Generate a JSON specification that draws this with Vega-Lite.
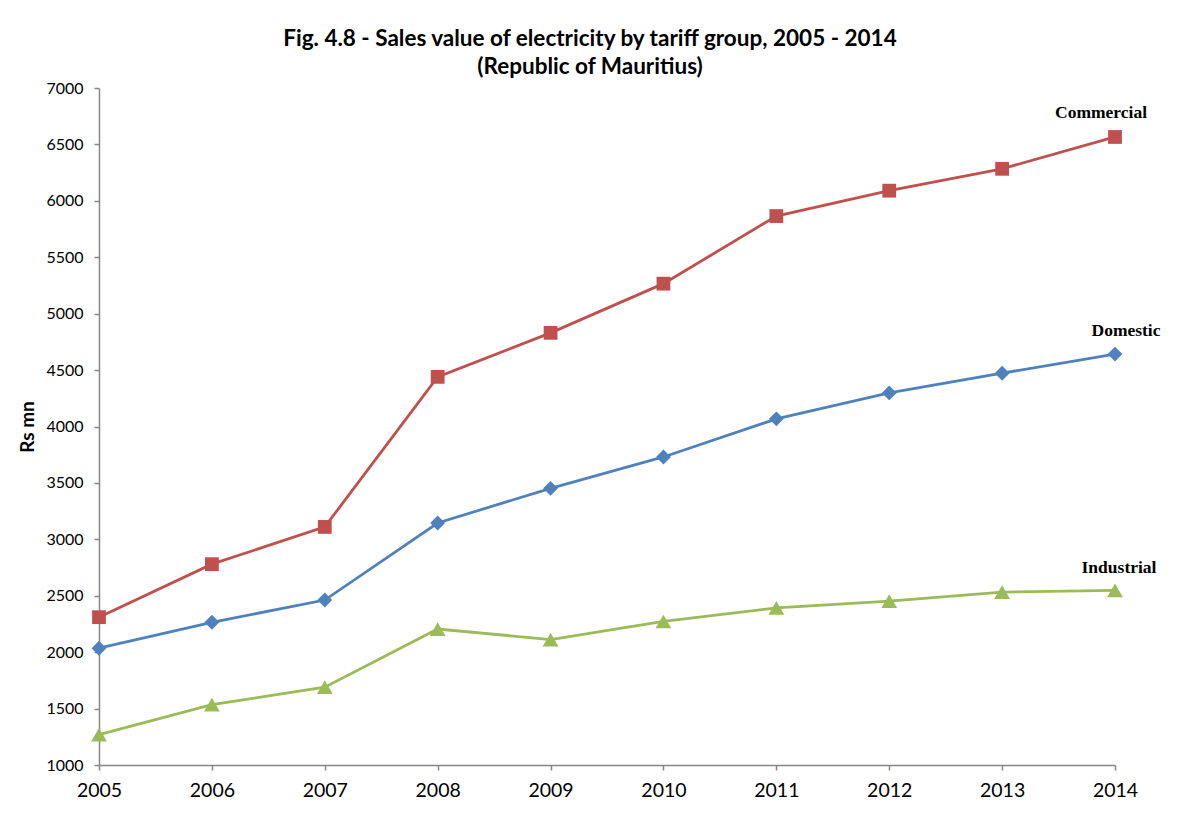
{
  "$schema": "https://vega.github.io/schema/vega-lite/v6.json",
  "width": 1016,
  "height": 677,
  "autosize": {"type": "none"},
  "padding": {"left": 99, "top": 88, "right": 66, "bottom": 52},
  "background": "white",
  "config": {
    "view": {"stroke": null},
    "font": "Lato"
  },
  "title": {
    "text": ["Fig. 4.8 - Sales value of electricity by tariff group, 2005 - 2014", "(Republic of Mauritius)"],
    "font": "Lato",
    "fontSize": 22.5,
    "fontWeight": "bold",
    "color": "black",
    "lineHeight": 28,
    "anchor": "middle",
    "dx": -17,
    "offset": 2
  },
  "data": {
    "values": [
      {"year": 2005, "group": "Commercial", "value": 2310},
      {"year": 2006, "group": "Commercial", "value": 2780},
      {"year": 2007, "group": "Commercial", "value": 3110},
      {"year": 2008, "group": "Commercial", "value": 4440},
      {"year": 2009, "group": "Commercial", "value": 4830},
      {"year": 2010, "group": "Commercial", "value": 5266},
      {"year": 2011, "group": "Commercial", "value": 5865},
      {"year": 2012, "group": "Commercial", "value": 6090},
      {"year": 2013, "group": "Commercial", "value": 6284},
      {"year": 2014, "group": "Commercial", "value": 6566},
      {"year": 2005, "group": "Domestic", "value": 2035},
      {"year": 2006, "group": "Domestic", "value": 2265},
      {"year": 2007, "group": "Domestic", "value": 2462},
      {"year": 2008, "group": "Domestic", "value": 3145},
      {"year": 2009, "group": "Domestic", "value": 3452},
      {"year": 2010, "group": "Domestic", "value": 3730},
      {"year": 2011, "group": "Domestic", "value": 4068},
      {"year": 2012, "group": "Domestic", "value": 4298},
      {"year": 2013, "group": "Domestic", "value": 4472},
      {"year": 2014, "group": "Domestic", "value": 4642},
      {"year": 2005, "group": "Industrial", "value": 1270},
      {"year": 2006, "group": "Industrial", "value": 1535},
      {"year": 2007, "group": "Industrial", "value": 1690},
      {"year": 2008, "group": "Industrial", "value": 2205},
      {"year": 2009, "group": "Industrial", "value": 2112},
      {"year": 2010, "group": "Industrial", "value": 2272},
      {"year": 2011, "group": "Industrial", "value": 2392},
      {"year": 2012, "group": "Industrial", "value": 2452},
      {"year": 2013, "group": "Industrial", "value": 2532},
      {"year": 2014, "group": "Industrial", "value": 2547}
    ]
  },
  "encoding": {
    "x": {
      "field": "year",
      "type": "quantitative",
      "scale": {"domain": [2005, 2014], "nice": false, "zero": false},
      "axis": {
        "values": [2005, 2006, 2007, 2008, 2009, 2010, 2011, 2012, 2013, 2014],
        "format": "d",
        "title": null,
        "grid": false,
        "domainColor": "#868686",
        "domainWidth": 1.5,
        "tickColor": "#868686",
        "tickSize": 5,
        "tickWidth": 1.5,
        "labelFont": "Lato",
        "labelFontSize": 19.5,
        "labelColor": "black",
        "labelPadding": 11,
        "labelFlush": false
      }
    },
    "y": {
      "field": "value",
      "type": "quantitative",
      "scale": {"domain": [1000, 7000], "nice": false, "zero": false},
      "axis": {
        "values": [1000, 1500, 2000, 2500, 3000, 3500, 4000, 4500, 5000, 5500, 6000, 6500, 7000],
        "format": "d",
        "title": "Rs mn",
        "titleFont": "Lato",
        "titleFontSize": 19,
        "titleFontWeight": "bold",
        "titleColor": "black",
        "titlePadding": 8,
        "grid": false,
        "domainColor": "#868686",
        "domainWidth": 1.5,
        "tickColor": "#868686",
        "tickSize": 5,
        "tickWidth": 1.5,
        "labelFont": "Lato",
        "labelFontSize": 16,
        "labelColor": "black",
        "labelPadding": 11,
        "labelFlush": false
      }
    },
    "color": {
      "field": "group",
      "type": "nominal",
      "scale": {"domain": ["Commercial", "Domestic", "Industrial"], "range": ["#C0504D", "#4F81BD", "#9BBB59"]},
      "legend": null
    }
  },
  "layer": [
    {
      "mark": {"type": "line", "strokeWidth": 2.8}
    },
    {
      "mark": {"type": "point", "filled": true, "opacity": 1},
      "encoding": {
        "shape": {
          "field": "group",
          "type": "nominal",
          "scale": {"domain": ["Commercial", "Domestic", "Industrial"], "range": ["square", "diamond", "triangle-up"]},
          "legend": null
        },
        "size": {
          "field": "group",
          "type": "nominal",
          "scale": {"domain": ["Commercial", "Domestic", "Industrial"], "range": [190, 250, 240]},
          "legend": null
        }
      }
    },
    {
      "transform": [{"filter": "datum.year == 2014 && datum.group == 'Commercial'"}],
      "mark": {"type": "text", "font": "Liberation Serif", "fontWeight": "bold", "fontSize": 17.5, "color": "black", "dx": -14, "dy": -24},
      "encoding": {"text": {"field": "group"}, "color": {"value": "black"}}
    },
    {
      "transform": [{"filter": "datum.year == 2014 && datum.group == 'Domestic'"}],
      "mark": {"type": "text", "font": "Liberation Serif", "fontWeight": "bold", "fontSize": 17.5, "color": "black", "dx": 11, "dy": -23},
      "encoding": {"text": {"field": "group"}, "color": {"value": "black"}}
    },
    {
      "transform": [{"filter": "datum.year == 2014 && datum.group == 'Industrial'"}],
      "mark": {"type": "text", "font": "Liberation Serif", "fontWeight": "bold", "fontSize": 17.5, "color": "black", "dx": 4, "dy": -22},
      "encoding": {"text": {"field": "group"}, "color": {"value": "black"}}
    }
  ]
}
